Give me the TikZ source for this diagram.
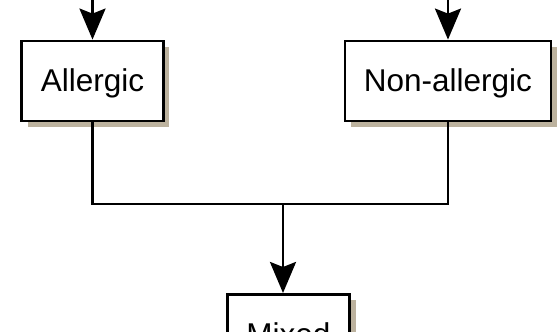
\documentclass[tikz,border=0pt]{standalone}
\usepackage{fontspec}
\setmainfont{Liberation Sans}
\usetikzlibrary{arrows.meta,shadows}
\definecolor{shadowtan}{RGB}{188,178,158}
\begin{document}
\begin{tikzpicture}[x=1pt,y=1pt,line cap=butt]
% Styles
\tikzstyle{type box}=[draw,line width=2.8pt,fill=white,minimum height=80pt,inner xsep=19pt,text height=22pt,text depth=0pt,font=\fontsize{31.5}{36}\selectfont,drop shadow={shadow xshift=6pt,shadow yshift=-6pt,fill=shadowtan,opacity=1}]
\tikzstyle{flow}=[line width=2.8pt,-{Stealth[length=31pt,width=26pt,inset=5pt]}]

\useasboundingbox (0,0) rectangle (558,332);

% draw the nodes
\node[type box] (allergic) at (92.5,251) {Allergic};
\node[type box] (nonallergic) at (448,251) {Non-allergic};
\node[type box,anchor=north] (mixed) at (288.5,39) {Mixed};

% incoming arrows
\foreach \n in {allergic,nonallergic} {
\coordinate (\n in) at (\n.north |- 0,334);
\draw[flow] (\n in) -- (\n.north);
}

%join path
\coordinate (join) at (283,128);
\draw[line width=2.8pt] (allergic.south) |- (join) -| (nonallergic.south);
\draw[flow] (join) -- (join |- mixed.north);

\end{tikzpicture}
\end{document}
